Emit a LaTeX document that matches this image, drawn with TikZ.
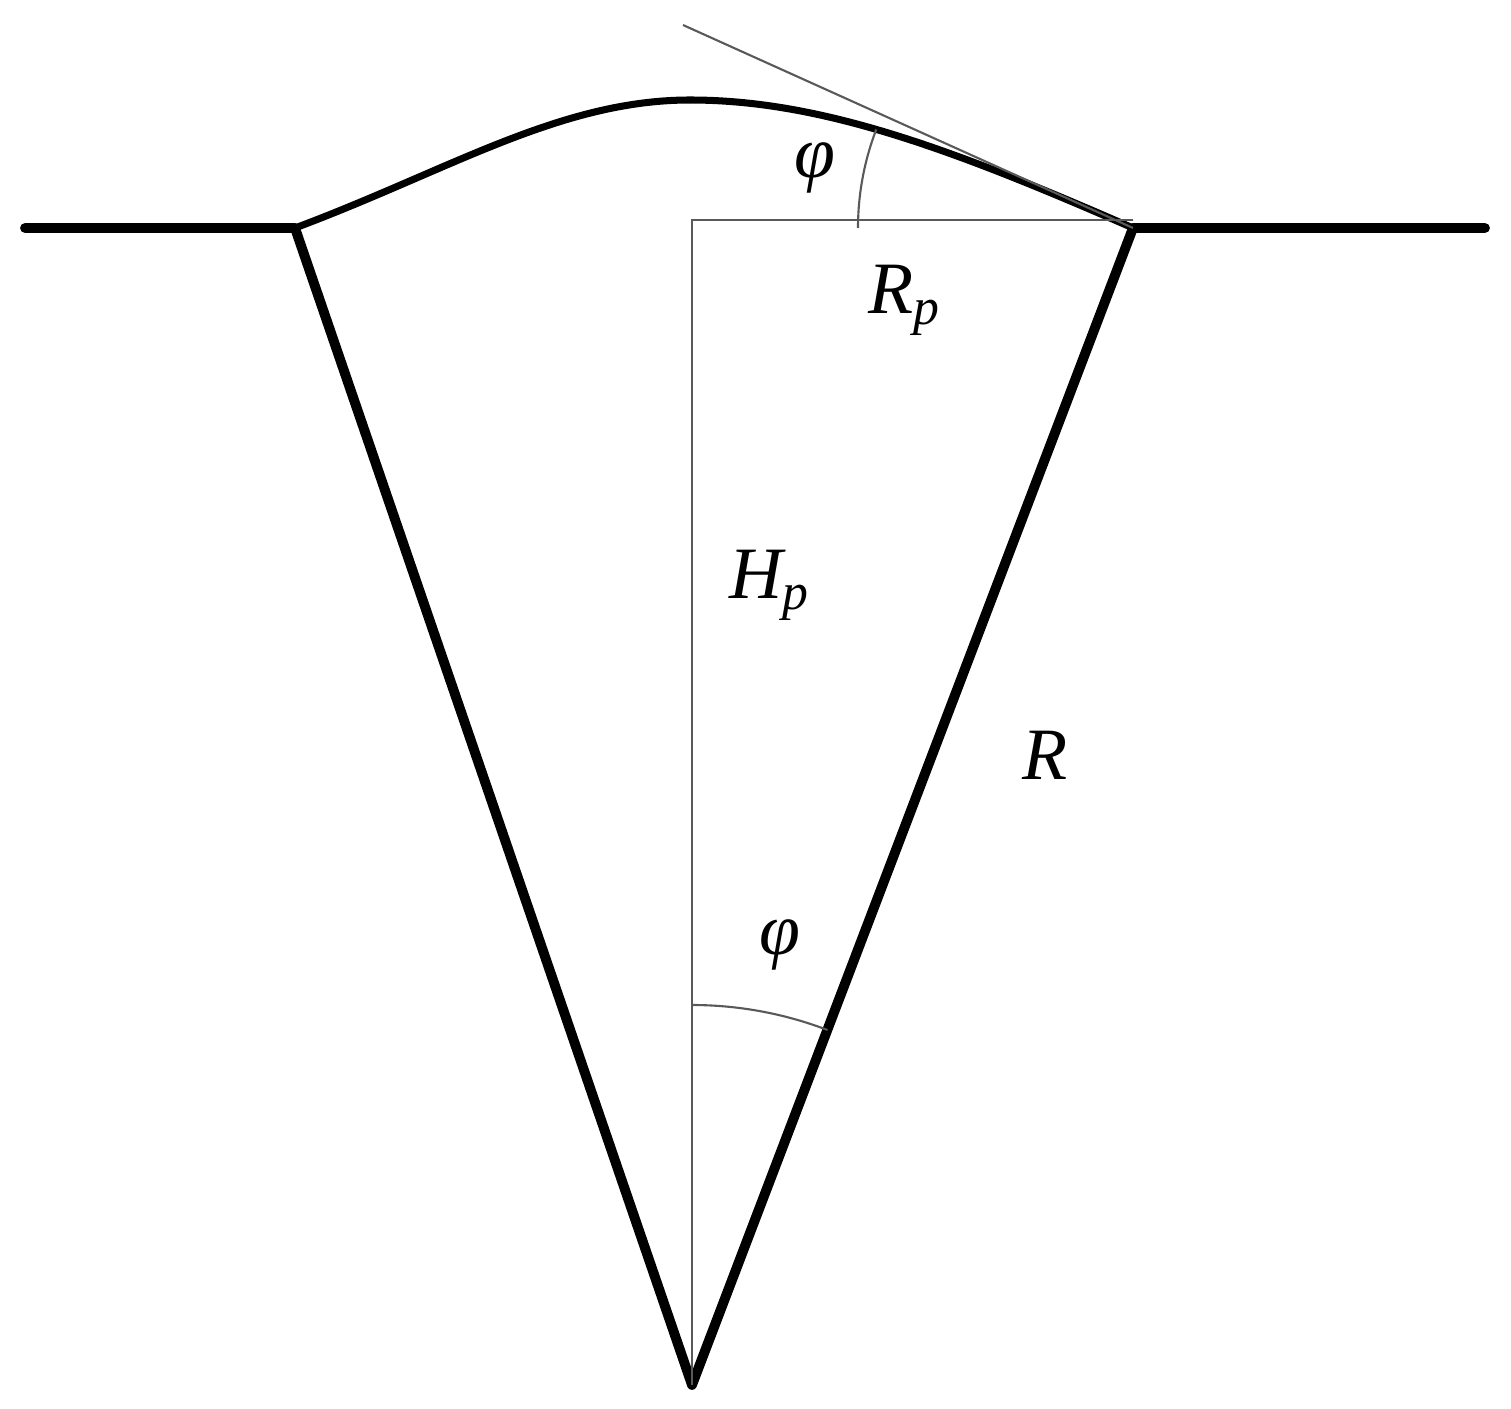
\documentclass[tikz,border=0pt]{standalone}
\usepackage{fontspec}
\setmainfont{Liberation Serif}
\begin{document}
\begin{tikzpicture}[x=0.01cm,y=-0.01cm,
  thick line/.style={line width=2.8pt,line cap=round,line join=round},
  thin line/.style={line width=0.6pt,gray!70!black},
  lbl/.style={font=\fontsize{21}{24}\selectfont\itshape}]
\useasboundingbox (0,0) rectangle (1511,1409);
\coordinate (gl) at (25,228);
\coordinate (gr) at (1485,228);
\coordinate (L) at (295,228);
\coordinate (Rr) at (1133,228);
\coordinate (A) at (692,1385);
\coordinate (T) at (683,25);
\coordinate (top) at (692,220);
\coordinate (hr) at (1133,220);
\coordinate (pk) at (690,100);
\draw[thick line] (gl) -- (L) -- (A) -- (Rr) -- (gr);
\draw[line width=2pt] (L) .. controls (450,170) and (560,100) .. (pk) .. controls (820,100) and (950,148) .. (Rr);
\draw[thin line] (T) -- (Rr);
\draw[thin line] (A) -- (top) -- (hr);
\draw[thin line] (Rr) ++(180:275) arc[start angle=180,end angle=201,radius=275];
\draw[thin line] (A) ++(-90:380) arc[start angle=-90,end angle=-69.1,radius=380];
\node[lbl] (phi1) at (815,168) {φ};
\node[lbl] (rp) at (905,300) {R\textsubscript{\itshape p}};
\node[lbl] (hp) at (770,585) {H\textsubscript{\itshape p}};
\node[lbl] (r) at (1045,755) {R};
\node[lbl] (phi2) at (780,945) {φ};
\end{tikzpicture}
\end{document}
